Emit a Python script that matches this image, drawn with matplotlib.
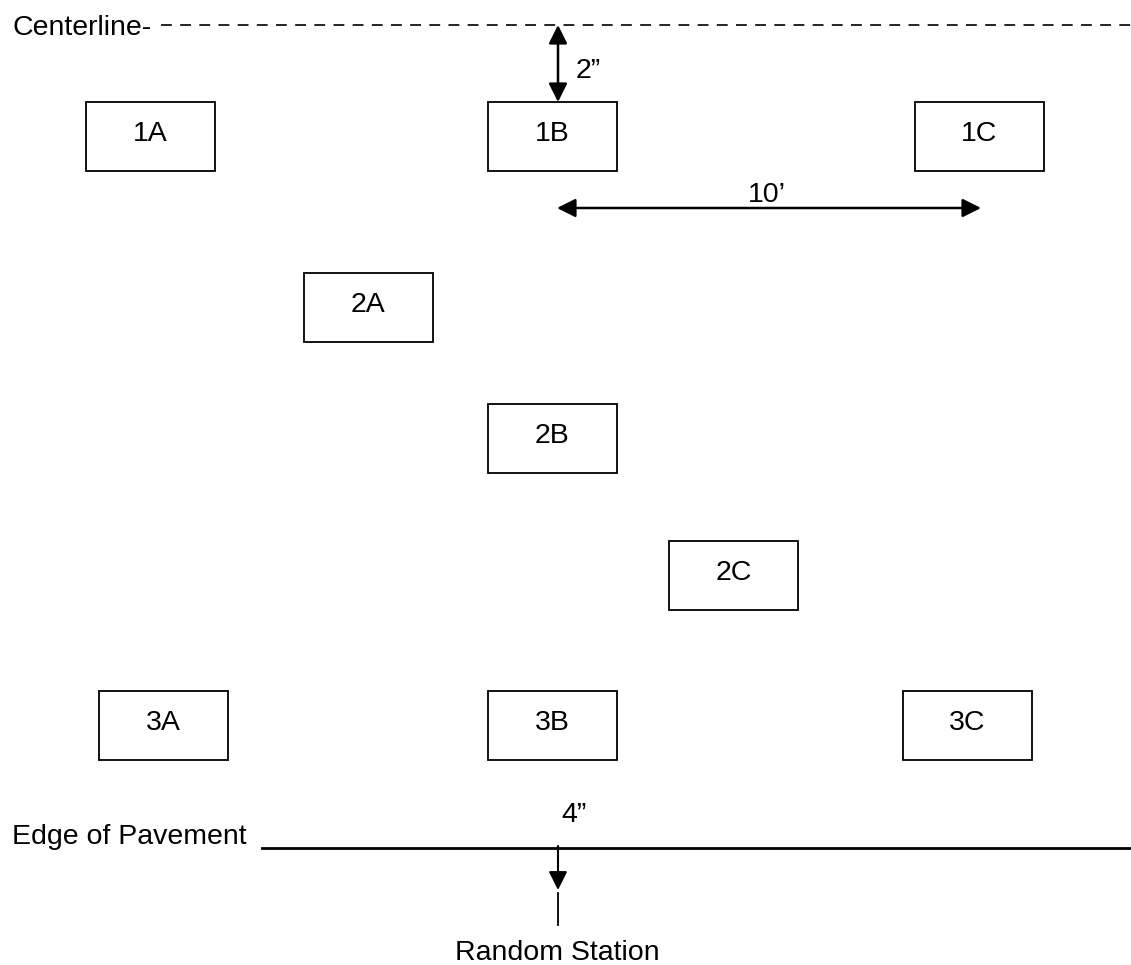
import matplotlib
matplotlib.use("Agg")
import matplotlib.pyplot as plt
from matplotlib.patches import Rectangle

plt.rcParams['font.family'] = ['Liberation Sans', 'DejaVu Sans']

# Sample locations (labels and box centres, in the drawing's pixel units)
labels = ["1A", "1B", "1C", "2A", "2B", "2C", "3A", "3B", "3C"]
cx = [150.5, 552.5, 979, 368.5, 552.5, 733.5, 163.5, 552.5, 967.5]
cy = [136.5, 136.5, 136.5, 307, 438.5, 575.5, 725, 725, 725]
box_w = 129
box_h = 69

W, H = 1131, 965
fig = plt.figure(figsize=(W / 100, H / 100), dpi=100)
ax = fig.add_axes([0, 0, 1, 1])
ax.set_xlim(0, W)
ax.set_ylim(H, 0)
ax.axis('off')

fs = 20.5
lw = 1.3

for lab, x, y in zip(labels, cx, cy):
    ax.add_patch(Rectangle((x - box_w / 2, y - box_h / 2), box_w, box_h,
                           fill=False, edgecolor='black', linewidth=lw))
    ax.text(x, y - box_h / 2 + 39, lab, ha='center', va='baseline', fontsize=fs)

# Centerline
ax.text(12, 35, "Centerline-", ha='left', va='baseline', fontsize=fs)
ax.plot([161, 1131], [25, 25], color='black', linewidth=1.2,
        dashes=(6.5, 5))

# 2" arrow
arrow_kw = dict(arrowstyle='<|-|>', color='black', lw=1.8,
                mutation_scale=28, shrinkA=0, shrinkB=0)
ax.annotate("", xy=(558, 25), xytext=(558, 102), arrowprops=arrow_kw)
ax.text(576, 78, "2\u201d", ha='left', va='baseline', fontsize=fs)

# 10' arrow
ax.annotate("", xy=(557, 208), xytext=(981, 208), arrowprops=arrow_kw)
ax.text(767, 202, "10\u2019", ha='center', va='baseline', fontsize=fs)

# Edge of pavement
ax.text(12, 844, "Edge of Pavement", ha='left', va='baseline', fontsize=fs)
ax.plot([262, 1131], [848, 848], color='black', linewidth=2.0)
ax.text(574, 822, "4\u201d", ha='center', va='baseline', fontsize=fs)
ax.annotate("", xy=(558, 890), xytext=(558, 846),
            arrowprops=dict(arrowstyle='-|>', color='black', lw=1.5,
                            mutation_scale=28, shrinkA=0, shrinkB=0))
ax.plot([558, 558], [893, 925], color='black', linewidth=1.3)
ax.text(557, 960, "Random Station", ha='center', va='baseline', fontsize=fs)

fig.savefig("out.png", dpi=100, facecolor='white')
